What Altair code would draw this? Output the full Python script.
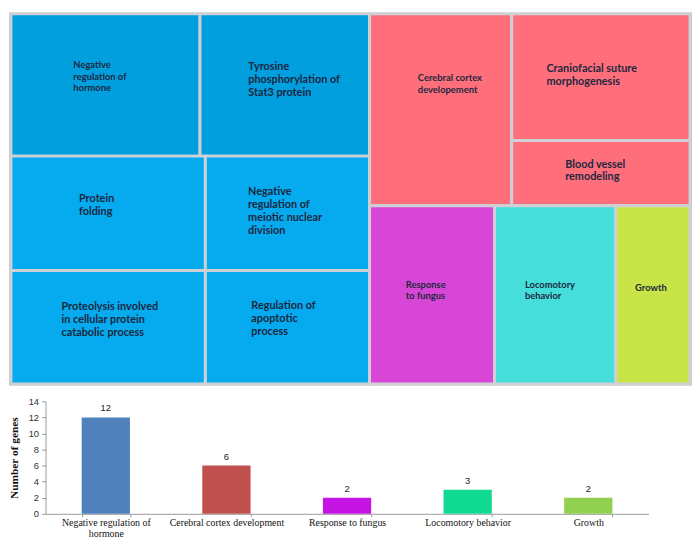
import altair as alt
import pandas as pd

# ---------------- Treemap data ----------------
tile_names = [
    "Negative regulation of hormone",
    "Tyrosine phosphorylation of Stat3 protein",
    "Protein folding",
    "Negative regulation of meiotic nuclear division",
    "Proteolysis involved in cellular protein catabolic process",
    "Regulation of apoptotic process",
    "Cerebral cortex developement",
    "Craniofacial suture morphogenesis",
    "Blood vessel remodeling",
    "Response to fungus",
    "Locomotory behavior",
    "Growth",
]
tile_labels = [
    "Negative\nregulation of\nhormone",
    "Tyrosine\nphosphorylation of\nStat3 protein",
    "Protein\nfolding",
    "Negative\nregulation of\nmeiotic nuclear\ndivision",
    "Proteolysis involved\nin cellular protein\ncatabolic process",
    "Regulation of\napoptotic\nprocess",
    "Cerebral cortex\ndevelopement",
    "Craniofacial suture\nmorphogenesis",
    "Blood vessel\nremodeling",
    "Response\nto fungus",
    "Locomotory\nbehavior",
    "Growth",
]
# relative tile sizes (areas)
tile_sizes = [282.5, 253.3, 233.8, 197.4, 231.8, 195.7,
              286.6, 237.3, 122.3, 234.2, 226.9, 139.1]
tile_colors = ["#029fdf", "#029fdf", "#05abee", "#05abee", "#05abee", "#05abee",
               "#fe6f7b", "#fe6f7b", "#fe6f7b", "#d846d7", "#45deda", "#c8e446"]

# hierarchical slice-and-dice structure (h = side by side, v = stacked)
layout_tree = ("h", [
    ("v", [("h", [0, 1]), ("h", [2, 3]), ("h", [4, 5])]),
    ("v", [("h", [6, ("v", [7, 8])]), ("h", [9, 10, 11])]),
])
TW, TH = 695.0, 380.0

# label placement (fraction of tile width/height for first line, font size)
label_style = [(0.33, 0.36, 9.5), (0.285, 0.37, 11), (0.35, 0.37, 11),
               (0.26, 0.31, 11), (0.26, 0.32, 11), (0.28, 0.31, 11),
               (0.34, 0.335, 9.5), (0.195, 0.43, 11), (0.30, 0.36, 11),
               (0.29, 0.44, 9.5), (0.25, 0.44, 9.5), (0.26, 0.46, 9.5)]


def node_size(n):
    if isinstance(n, int):
        return tile_sizes[n]
    return sum(node_size(c) for c in n[1])


rects = {}


def place(n, x0, y0, x1, y1):
    if isinstance(n, int):
        rects[n] = (x0, y0, x1, y1)
        return
    d, kids = n
    tot = node_size(n)
    pos = x0 if d == "h" else y0
    for k in kids:
        f = node_size(k) / tot
        if d == "h":
            w = (x1 - x0) * f
            place(k, pos, y0, pos + w, y1)
            pos += w
        else:
            h = (y1 - y0) * f
            place(k, x0, pos, x1, pos + h)
            pos += h


place(layout_tree, 0.0, 0.0, TW, TH)

rows = []
for i, name in enumerate(tile_names):
    x0, y0, x1, y1 = rects[i]
    fx, fy, fs = label_style[i]
    rows.append(dict(name=name, label=tile_labels[i], color=tile_colors[i],
                     x0=x0, x1=x1, y0=y0, y1=y1,
                     lx=x0 + fx * (x1 - x0),
                     ly=y0 + fy * (y1 - y0) - 0.5 * fs,
                     fs=fs))
tdf = pd.DataFrame(rows)

xs = alt.Scale(domain=[-2.0, 697.0], nice=False, zero=False)
ys = alt.Scale(domain=[-1.5, 381.5], nice=False, zero=False, reverse=True)

tiles = alt.Chart(tdf).mark_rect(stroke="#cdd1d5", strokeWidth=3).encode(
    x=alt.X("x0:Q", scale=xs, axis=None),
    x2="x1:Q",
    y=alt.Y("y0:Q", scale=ys, axis=None),
    y2="y1:Q",
    color=alt.Color("color:N", scale=None),
)
labels = alt.Chart(tdf).mark_text(
    align="left", baseline="top", lineBreak="\n", font="Lato",
    fontWeight="bold", color="#1c2740"
).encode(
    x=alt.X("lx:Q", scale=xs, axis=None),
    y=alt.Y("ly:Q", scale=ys, axis=None),
    text="label:N",
    size=alt.Size("fs:Q", scale=None),
)
treemap = alt.layer(tiles, labels).properties(
    width=692, height=378,
    view=alt.ViewBackground(fill="#c4c4c4", stroke=None),
)

# ---------------- Bar chart data ----------------
bar_cats = ["Negative regulation of hormone", "Cerebral cortex development",
            "Response to fungus", "Locomotory behavior", "Growth"]
bar_vals = [12, 6, 2, 3, 2]
bar_colors = ["#4f81bd", "#c0504d", "#c514e4", "#10da92", "#92d050"]
y_ticks = [0, 2, 4, 6, 8, 10, 12, 14]

bdf = pd.DataFrame(dict(cat=bar_cats, val=bar_vals, color=bar_colors))

AXIS_ROOM = 37  # room kept inside the bar view for the y axis labels/title

bx = alt.X(
    "cat:N", sort=bar_cats, title=None,
    scale=alt.Scale(paddingInner=0.6, paddingOuter=0.3, range=[AXIS_ROOM, 648]),
    axis=alt.Axis(
        labelAngle=0, labelFont="Liberation Serif", labelFontSize=10,
        labelLineHeight=11,
        labelColor="#111", labelLimit=300, tickBand="extent", tickSize=3,
        labelPadding=1, domainColor="#9a9a9a", tickColor="#9a9a9a",
        labelOverlap=False,
        labelExpr="datum.value == 'Negative regulation of hormone' ? "
                  "['Negative regulation of', 'hormone'] : datum.value",
    ),
)
by = alt.Y(
    "val:Q", scale=alt.Scale(domain=[0, 14], nice=False),
    axis=alt.Axis(
        values=y_ticks, grid=False, title="Number of genes", offset=-AXIS_ROOM,
        titleFont="Liberation Serif", titleFontSize=11.5, titleFontWeight="bold",
        titleColor="#111", titlePadding=9, labelFont="Liberation Sans",
        labelFontSize=9.5, labelColor="#333", tickSize=4, labelPadding=3,
        domainColor="#9a9a9a", tickColor="#9a9a9a", labelOverlap=False,
    ),
)
bars = alt.Chart(bdf).mark_bar().encode(
    x=bx, y=by, color=alt.Color("color:N", scale=None)
)
vlabels = alt.Chart(bdf).mark_text(
    baseline="bottom", dy=-4, font="Liberation Sans", fontSize=9.5, color="#222"
).encode(x=bx, y=by, text="val:Q")
barchart = alt.layer(bars, vlabels).properties(
    width=648, height=114,
    view=alt.ViewBackground(stroke=None),
)

chart = alt.vconcat(treemap, barchart, spacing=10).properties(
    padding={"left": 0, "top": 0, "right": 0, "bottom": -4},
    background="white",
).configure_view(stroke=None)

chart.save("out.html", embed_options={"renderer": "svg", "actions": False})
